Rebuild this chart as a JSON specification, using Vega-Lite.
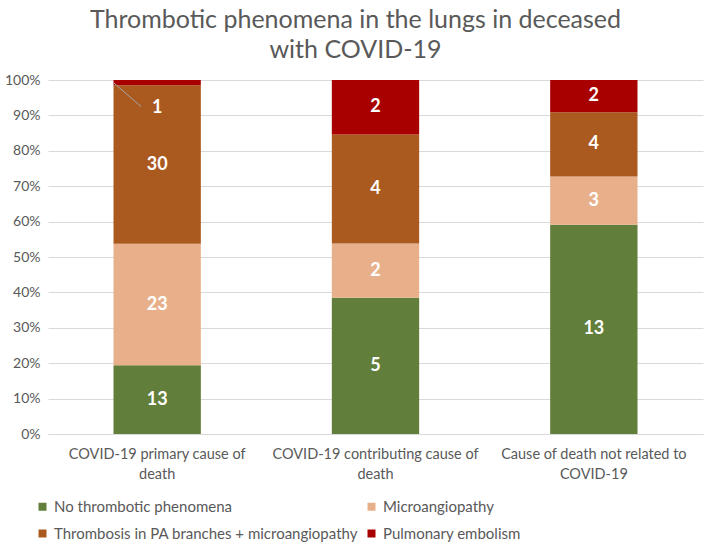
{
  "$schema": "https://vega.github.io/schema/vega-lite/v6.json",
  "autosize": {"type": "none"},
  "width": 655,
  "height": 354,
  "padding": {"left": 48, "top": 80, "right": 6, "bottom": 113},
  "background": "white",
  "config": {
    "font": "Lato",
    "view": {"stroke": null}
  },
  "title": {
    "text": ["Thrombotic phenomena in the lungs in deceased", "with COVID-19"],
    "font": "Lato",
    "fontSize": 25,
    "fontWeight": "normal",
    "color": "#595959",
    "anchor": "middle",
    "dx": -20,
    "offset": 10,
    "lineHeight": 30
  },
  "data": {
    "values": [
      {"cause": "COVID-19 primary cause of death", "type": "No thrombotic phenomena", "n": 13},
      {"cause": "COVID-19 primary cause of death", "type": "Microangiopathy", "n": 23},
      {"cause": "COVID-19 primary cause of death", "type": "Thrombosis in PA branches + microangiopathy", "n": 30},
      {"cause": "COVID-19 primary cause of death", "type": "Pulmonary embolism", "n": 1},
      {"cause": "COVID-19 contributing cause of death", "type": "No thrombotic phenomena", "n": 5},
      {"cause": "COVID-19 contributing cause of death", "type": "Microangiopathy", "n": 2},
      {"cause": "COVID-19 contributing cause of death", "type": "Thrombosis in PA branches + microangiopathy", "n": 4},
      {"cause": "COVID-19 contributing cause of death", "type": "Pulmonary embolism", "n": 2},
      {"cause": "Cause of death not related to COVID-19", "type": "No thrombotic phenomena", "n": 13},
      {"cause": "Cause of death not related to COVID-19", "type": "Microangiopathy", "n": 3},
      {"cause": "Cause of death not related to COVID-19", "type": "Thrombosis in PA branches + microangiopathy", "n": 4},
      {"cause": "Cause of death not related to COVID-19", "type": "Pulmonary embolism", "n": 2}
    ]
  },
  "transform": [
    {"calculate": "indexof(['No thrombotic phenomena','Microangiopathy','Thrombosis in PA branches + microangiopathy','Pulmonary embolism'], datum.type)", "as": "o"},
    {"stack": "n", "groupby": ["cause"], "sort": [{"field": "o", "order": "ascending"}], "offset": "normalize", "as": ["y0", "y1"]},
    {"calculate": "(datum.y0 + datum.y1) / 2", "as": "mid"}
  ],
  "encoding": {
    "x": {
      "field": "cause",
      "type": "nominal",
      "sort": ["COVID-19 primary cause of death", "COVID-19 contributing cause of death", "Cause of death not related to COVID-19"],
      "scale": {"paddingInner": 0.6, "paddingOuter": 0.3},
      "axis": {
        "title": null,
        "labelAngle": 0,
        "labelFontSize": 14.5,
        "labelColor": "#595959",
        "labelPadding": 13,
        "labelLineHeight": 20,
        "labelLimit": 300,
        "ticks": false,
        "domainColor": "#d9d9d9",
        "labelExpr": "datum.label == 'COVID-19 primary cause of death' ? ['COVID-19 primary cause of', 'death'] : datum.label == 'COVID-19 contributing cause of death' ? ['COVID-19 contributing cause of', 'death'] : ['Cause of death not related to', 'COVID-19']"
      }
    }
  },
  "layer": [
    {
      "mark": {"type": "bar"},
      "encoding": {
        "y": {
          "field": "y1",
          "type": "quantitative",
          "scale": {"domain": [0, 1], "nice": false},
          "axis": {
            "title": null,
            "format": ".0%",
            "values": [0, 0.1, 0.2, 0.3, 0.4, 0.5, 0.6, 0.7, 0.8, 0.9, 1],
            "labelFontSize": 14,
            "labelColor": "#595959",
            "labelPadding": 8,
            "labelOverlap": false,
            "ticks": false,
            "domain": false,
            "gridColor": "#d9d9d9",
            "gridWidth": 1
          }
        },
        "y2": {"field": "y0"},
        "color": {
          "field": "type",
          "type": "nominal",
          "scale": {
            "domain": ["No thrombotic phenomena", "Microangiopathy", "Thrombosis in PA branches + microangiopathy", "Pulmonary embolism"],
            "range": ["#617E3A", "#E8B08A", "#AB5A1F", "#A80000"]
          },
          "legend": {
            "title": null,
            "orient": "none",
            "legendX": -13,
            "legendY": 419,
            "columns": 2,
            "direction": "horizontal",
            "symbolType": "square",
            "symbolSize": 64,
            "symbolStrokeWidth": 0,
            "labelFontSize": 15,
            "labelColor": "#595959",
            "labelLimit": 400,
            "columnPadding": 6,
            "rowPadding": 11,
            "labelOffset": 4
          }
        }
      }
    },
    {
      "transform": [{"filter": "datum.y1 - datum.y0 > 0.05"}],
      "mark": {"type": "text", "color": "white", "fontSize": 18, "fontWeight": "bold", "baseline": "middle"},
      "encoding": {
        "y": {
          "field": "mid",
          "type": "quantitative",
          "axis": {
            "title": null,
            "format": ".0%",
            "values": [0, 0.1, 0.2, 0.3, 0.4, 0.5, 0.6, 0.7, 0.8, 0.9, 1],
            "labelFontSize": 14,
            "labelColor": "#595959",
            "labelPadding": 8,
            "labelOverlap": false,
            "ticks": false,
            "domain": false,
            "gridColor": "#d9d9d9",
            "gridWidth": 1
          }
        },
        "text": {"field": "n", "type": "quantitative"}
      }
    },
    {
      "transform": [{"filter": "datum.y1 - datum.y0 <= 0.05"}],
      "mark": {"type": "text", "color": "white", "fontSize": 18, "fontWeight": "bold", "baseline": "middle", "dy": 25},
      "encoding": {
        "y": {
          "field": "mid",
          "type": "quantitative",
          "axis": {
            "title": null,
            "format": ".0%",
            "values": [0, 0.1, 0.2, 0.3, 0.4, 0.5, 0.6, 0.7, 0.8, 0.9, 1],
            "labelFontSize": 14,
            "labelColor": "#595959",
            "labelPadding": 8,
            "labelOverlap": false,
            "ticks": false,
            "domain": false,
            "gridColor": "#d9d9d9",
            "gridWidth": 1
          }
        },
        "text": {"field": "n", "type": "quantitative"}
      }
    },
    {
      "transform": [{"filter": "datum.y1 - datum.y0 <= 0.05"}],
      "mark": {"type": "rule", "color": "#a6a6a6", "strokeWidth": 1, "x2Offset": -16, "y2Offset": 24},
      "encoding": {
        "x": {"field": "cause", "type": "nominal", "bandPosition": 0},
        "x2": {"field": "cause"},
        "y": {
          "field": "mid",
          "type": "quantitative",
          "axis": {
            "title": null,
            "format": ".0%",
            "values": [0, 0.1, 0.2, 0.3, 0.4, 0.5, 0.6, 0.7, 0.8, 0.9, 1],
            "labelFontSize": 14,
            "labelColor": "#595959",
            "labelPadding": 8,
            "labelOverlap": false,
            "ticks": false,
            "domain": false,
            "gridColor": "#d9d9d9",
            "gridWidth": 1
          }
        },
        "y2": {"field": "mid"}
      }
    }
  ]
}
